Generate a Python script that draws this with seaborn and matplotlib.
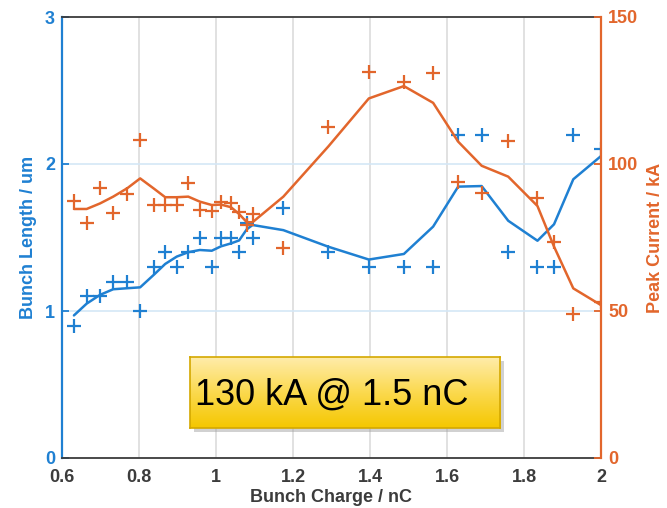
import numpy as np
import pandas as pd
import matplotlib
matplotlib.use("Agg")
import matplotlib.pyplot as plt
import seaborn as sns
from matplotlib.colors import LinearSegmentedColormap

# ---- data ----
charge = [0.631, 0.664, 0.699, 0.733, 0.770, 0.803, 0.840, 0.868, 0.898, 0.928,
          0.958, 0.989, 1.013, 1.039, 1.060, 1.080, 1.095, 1.175, 1.292, 1.397,
          1.488, 1.564, 1.629, 1.690, 1.759, 1.835, 1.878, 1.928, 2.000]
length_meas = [0.9, 1.1, 1.1, 1.2, 1.2, 1.0, 1.3, 1.4, 1.3, 1.4,
               1.5, 1.3, 1.5, 1.5, 1.4, 1.6, 1.5, 1.7, 1.4, 1.3,
               1.3, 1.3, 2.2, 2.2, 1.4, 1.3, 1.3, 2.2, 2.1]
length_fit = [0.97, 1.05, 1.11, 1.148, 1.155, 1.161, 1.25, 1.32, 1.37, 1.40,
              1.415, 1.41, 1.44, 1.46, 1.48, 1.556, 1.585, 1.55, 1.437, 1.35,
              1.388, 1.574, 1.846, 1.85, 1.614, 1.478, 1.59, 1.896, 2.054]
current_meas = [87.5, 80, 92, 83.4, 89.8, 108, 86, 86, 86, 93.4,
                84.4, 84, 87.2, 86.6, 83.8, 79.3, 83, 71.5, 112.5, 131.4,
                127.8, 131, 94, 90.2, 107.9, 88.5, 73.4, 49, 53.2]
current_fit = [84.7, 84.7, 86.6, 88.9, 91.8, 95.1, 91.5, 88.7, 88.7, 88.9,
               87.2, 86.05, 86.2, 85.3, 83.0, 80.2, 80.2, 88.9, 106.0, 122.3,
               126.5, 120.8, 107.6, 99.4, 95.7, 85.7, 71.9, 57.7, 52.0]
xticks = [0.6, 0.8, 1.0, 1.2, 1.4, 1.6, 1.8, 2.0]
xticklabels = ["0.6", "0.8", "1", "1.2", "1.4", "1.6", "1.8", "2"]
yticks_left = [0, 1, 2, 3]
yticks_right = [0, 50, 100, 150]

df = pd.DataFrame({"charge": charge, "len_m": length_meas, "len_f": length_fit,
                   "cur_m": current_meas, "cur_f": current_fit})

BLUE = "#1F80D2"
ORANGE = "#E2662C"
DARK = "#3c3c3c"

sns.set_style("white")
plt.rcParams["font.family"] = ["Liberation Sans", "DejaVu Sans"]

fig = plt.figure(figsize=(6.67, 5.08), dpi=100)
ax = fig.add_axes([62/667, 1-458/508, (601-62)/667, (458-17)/508])
ax2 = ax.twinx()

# grids
for xv in xticks[1:-1]:
    ax.axvline(xv, color="#dcdcdc", lw=1.2, zorder=0)
for yv in [1, 2]:
    ax.axhline(yv, color="#d4e7f6", lw=1.2, zorder=0)

sns.lineplot(data=df, x="charge", y="len_f", ax=ax, color=BLUE, lw=1.8, zorder=3)
sns.scatterplot(data=df, x="charge", y="len_m", ax=ax, color=BLUE, marker="+",
                s=90, linewidth=1.6, zorder=4)
sns.lineplot(data=df, x="charge", y="cur_f", ax=ax2, color=ORANGE, lw=1.8, zorder=3)
sns.scatterplot(data=df, x="charge", y="cur_m", ax=ax2, color=ORANGE, marker="+",
                s=90, linewidth=1.6, zorder=4)

ax.set_xlim(0.6, 2.0)
ax.set_ylim(0, 3)
ax2.set_ylim(0, 150)
ax.set_xticks(xticks)
ax.set_xticklabels(xticklabels)
ax.set_yticks(yticks_left)
ax2.set_yticks(yticks_right)

ax.spines["top"].set_color(DARK)
ax.spines["top"].set_linewidth(1.3)
ax2.spines["top"].set_visible(False)
ax.spines["left"].set_color(BLUE)
ax.spines["left"].set_linewidth(1.6)
ax.spines["right"].set_visible(False)
ax.spines["bottom"].set_color(DARK)
ax.spines["bottom"].set_linewidth(1.3)
ax2.spines["right"].set_color(ORANGE)
ax2.spines["right"].set_linewidth(1.6)
ax2.spines["left"].set_visible(False)
ax2.spines["bottom"].set_visible(False)

ax.tick_params(axis="y", direction="in", colors=BLUE, length=5, width=1.3,
               labelsize=13, pad=5)
ax.tick_params(axis="x", direction="in", colors=DARK, length=5, width=1.3,
               labelsize=13, pad=8)
ax2.tick_params(axis="y", direction="in", colors=ORANGE, length=5, width=1.3,
                labelsize=13, pad=5)
for lab in ax.get_yticklabels() + ax.get_xticklabels() + ax2.get_yticklabels():
    lab.set_fontweight("bold")

ax.set_xlabel("Bunch Charge / nC", fontsize=13, fontweight="bold", color=DARK, labelpad=2)
ax.set_ylabel("Bunch Length / um", fontsize=13, fontweight="bold", color=BLUE, labelpad=6)
ax2.set_ylabel("Peak Current / kA", fontsize=13, fontweight="bold", color=ORANGE, labelpad=6)

# annotation box with gradient
bx0, by0, bw, bh = 190/667, 1-428/508, 310/667, 71/508
shadow = fig.add_axes([bx0 + 4/667, by0 - 4/508, bw, bh])
shadow.set_facecolor("#9a9a9a")
shadow.patch.set_alpha(0.45)
shadow.set_xticks([]); shadow.set_yticks([])
for s in shadow.spines.values():
    s.set_visible(False)
box = fig.add_axes([bx0, by0, bw, bh])
grad = np.linspace(0, 1, 100).reshape(-1, 1)
cmap = LinearSegmentedColormap.from_list("yel", ["#FFECAA", "#FBD94E", "#F5C700"])
box.imshow(grad, aspect="auto", cmap=cmap, extent=[0, 1, 0, 1], origin="upper")
box.set_xlim(0, 1); box.set_ylim(0, 1)
box.set_xticks([]); box.set_yticks([])
for s in box.spines.values():
    s.set_color("#D4A800")
    s.set_linewidth(1.2)
box.text(0.015, 0.47, "130 kA @ 1.5 nC", fontsize=26, color="black",
         ha="left", va="center", family=["Liberation Sans", "DejaVu Sans"])

fig.savefig("out.png", dpi=100)
